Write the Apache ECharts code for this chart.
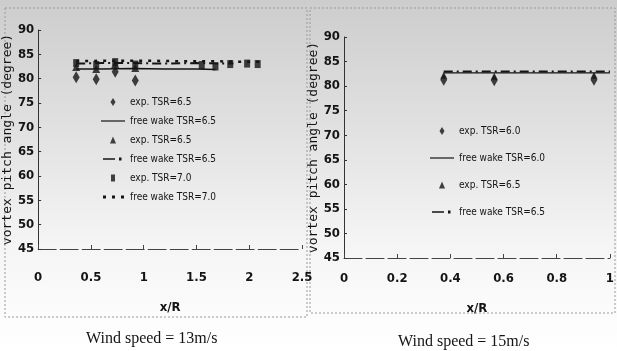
<!DOCTYPE html>
<html>
<head>
<meta charset="utf-8">
<script src="https://cdn.jsdelivr.net/npm/echarts@6/dist/echarts.min.js"></script>
<style>
  html, body { margin: 0; padding: 0; background: #fff; }
  #chart { width: 617px; height: 351px; }
</style>
</head>
<body>
<div id="chart"></div>
<script>
// left panel, wind speed 13 m/s
const leftExpX = [0.36, 0.55, 0.73, 0.92];
const leftExp65a = [80.3, 79.9, 81.4, 79.6];
const leftExp65b = [82.4, 82.0, 83.0, 82.2];
const leftExp70X = [0.36, 0.55, 0.73, 0.92, 1.55, 1.68, 1.82, 1.98, 2.08];
const leftExp70 = [83.2, 82.8, 83.4, 82.9, 82.8, 82.5, 83.0, 83.1, 83.0];
const leftFw65aX = [0.36, 0.6, 0.9, 1.2, 1.5, 1.68];
const leftFw65a = [82.0, 82.0, 82.1, 82.0, 82.0, 81.9];
const leftFw65bX = [0.36, 0.6, 0.9, 1.2, 1.5, 1.85];
const leftFw65b = [83.1, 83.2, 83.2, 83.1, 83.2, 83.1];
const leftFw70X = [0.36, 0.7, 1.0, 1.3, 1.6, 1.9, 2.1];
const leftFw70 = [83.6, 83.7, 83.7, 83.6, 83.6, 83.5, 83.5];

// right panel, wind speed 15 m/s
const rightExpX = [0.375, 0.565, 0.94];
const rightExp60 = [81.3, 81.2, 81.3];
const rightExp65 = [82.2, 82.0, 82.2];
const rightFwX = [0.375, 0.5, 0.6, 0.7, 0.8, 0.9, 1.0];
const rightFw60 = [82.7, 82.7, 82.7, 82.7, 82.7, 82.7, 82.7];
const rightFw65 = [83.0, 83.0, 83.0, 83.0, 83.0, 83.0, 83.0];

const leftXTicks = { min: 0, max: 2.5, interval: 0.5 };
const rightXTicks = { min: 0, max: 1, interval: 0.2 };
const yTicks = { min: 45, max: 90, interval: 5 };

const pair = (xs, ys) => xs.map((x, i) => [x, ys[i]]);

const ink = "#141414";
const tickFont = {
  color: ink,
  fontSize: 13,
  fontWeight: "bold",
  fontFamily: "Liberation Sans Narrow, DejaVu Sans Condensed, sans-serif",
};
const legendFont = {
  color: ink,
  fontSize: 10,
  fontFamily: "Liberation Sans Narrow, DejaVu Sans Condensed, sans-serif",
};
const yName = "vortex pitch angle (degree)";

// legend icons drawn in a 24x10 box (the leading moves fix the box)
const box = "M0,0 M24,10 ";
const icons = {
  diamond: box + "M12,1 L14.5,5 L12,9 L9.5,5 Z",
  triangle: box + "M12,1.5 L15,8.5 L9,8.5 Z",
  square: box + "M10,1.5 L14,1.5 L14,8.5 L10,8.5 Z",
  solid: box + "M0,4.4 L24,4.4 L24,5.6 L0,5.6 Z",
  dashDot: box + "M2,4.2 L14,4.2 L14,5.8 L2,5.8 Z M18,3.6 L20.5,3.6 L20.5,6.4 L18,6.4 Z",
  dots: box + "M2,3.5 L5,3.5 L5,6.5 L2,6.5 Z M11,3.5 L14,3.5 L14,6.5 L11,6.5 Z M20,3.5 L23,3.5 L23,6.5 L20,6.5 Z",
};

function xAxisOf(idx, ticks, gap, margin) {
  return {
    type: "value",
    gridIndex: idx,
    ...ticks,
    name: "x/R",
    nameLocation: "middle",
    nameGap: gap,
    nameTextStyle: { ...tickFont, fontSize: 13 },
    axisLine: { lineStyle: { color: "#444", width: 1, type: [18, 4] } },
    axisTick: { inside: true, length: 4, lineStyle: { color: "#444" } },
    axisLabel: { ...tickFont, margin: margin },
    splitLine: { show: false },
  };
}

function yAxisOf(idx, gap) {
  return {
    type: "value",
    gridIndex: idx,
    ...yTicks,
    name: yName,
    nameLocation: "middle",
    nameGap: gap,
    nameTextStyle: {
      color: ink,
      fontSize: 13,
      fontFamily: "DejaVu Sans Mono, monospace",
    },
    axisLine: { show: true, lineStyle: { color: "#333", width: 1 } },
    axisTick: { inside: true, length: 3, lineStyle: { color: "#333" } },
    axisLabel: { ...tickFont, margin: 4 },
    splitLine: { show: false },
  };
}

const chart = echarts.init(document.getElementById("chart"));

const option = {
  animation: false,
  backgroundColor: {
    type: "linear",
    x: 0,
    y: 0,
    x2: 0,
    y2: 1,
    colorStops: [
      { offset: 0, color: "#cdcdcd" },
      { offset: 0.35, color: "#e0e0e0" },
      { offset: 0.7, color: "#f5f5f5" },
      { offset: 1, color: "#ffffff" },
    ],
  },
  grid: [
    { left: 38, top: 30, width: 264, height: 219 },
    { left: 344, top: 37, width: 267, height: 221 },
  ],
  xAxis: [xAxisOf(0, leftXTicks, 52, 22), xAxisOf(1, rightXTicks, 44, 14)],
  yAxis: [yAxisOf(0, 22), yAxisOf(1, 23)],
  legend: [
    {
      orient: "vertical",
      left: 96,
      top: 92,
      itemGap: 9,
      itemWidth: 24,
      itemHeight: 10,
      textStyle: legendFont,
      data: [
        { name: "exp. TSR=6.5", icon: "path://" + icons.diamond },
        { name: "free wake TSR=6.5", icon: "path://" + icons.solid },
        { name: "exp. TSR=6.5 ", icon: "path://" + icons.triangle },
        { name: "free wake TSR=6.5 ", icon: "path://" + icons.dashDot },
        { name: "exp. TSR=7.0", icon: "path://" + icons.square },
        { name: "free wake TSR=7.0", icon: "path://" + icons.dots },
      ],
    },
    {
      orient: "vertical",
      left: 425,
      top: 121,
      itemGap: 17,
      itemWidth: 24,
      itemHeight: 10,
      textStyle: legendFont,
      data: [
        { name: "exp. TSR=6.0", icon: "path://" + icons.diamond },
        { name: "free wake TSR=6.0", icon: "path://" + icons.solid },
        { name: "exp. TSR=6.5  ", icon: "path://" + icons.triangle },
        { name: "free wake TSR=6.5  ", icon: "path://" + icons.dashDot },
      ],
    },
  ],
  graphic: [
    {
      type: "rect",
      shape: { x: 5, y: 8, width: 302, height: 309 },
      style: { fill: "none", stroke: "#9a9a9a", lineDash: [2, 2], lineWidth: 1 },
    },
    {
      type: "rect",
      shape: { x: 310, y: 8, width: 305, height: 305 },
      style: { fill: "none", stroke: "#9a9a9a", lineDash: [2, 2], lineWidth: 1 },
    },
    {
      type: "text",
      left: 86,
      top: 331,
      style: {
        text: "Wind speed = 13m/s",
        fill: ink,
        fontSize: 16,
        fontFamily: "Liberation Serif, serif",
      },
    },
    {
      type: "text",
      left: 398,
      top: 334,
      style: {
        text: "Wind speed = 15m/s",
        fill: ink,
        fontSize: 16,
        fontFamily: "Liberation Serif, serif",
      },
    },
  ],
  series: [
    {
      name: "exp. TSR=6.5",
      type: "scatter",
      xAxisIndex: 0,
      yAxisIndex: 0,
      symbol: "diamond",
      symbolSize: [7, 12],
      itemStyle: { color: ink },
      data: pair(leftExpX, leftExp65a),
    },
    {
      name: "free wake TSR=6.5",
      type: "line",
      xAxisIndex: 0,
      yAxisIndex: 0,
      symbol: "none",
      lineStyle: { color: ink, width: 1.5 },
      itemStyle: { color: ink },
      data: pair(leftFw65aX, leftFw65a),
    },
    {
      name: "exp. TSR=6.5 ",
      type: "scatter",
      xAxisIndex: 0,
      yAxisIndex: 0,
      symbol: "triangle",
      symbolSize: 8,
      itemStyle: { color: ink },
      data: pair(leftExpX, leftExp65b),
    },
    {
      name: "free wake TSR=6.5 ",
      type: "line",
      xAxisIndex: 0,
      yAxisIndex: 0,
      symbol: "none",
      lineStyle: { color: ink, width: 2, type: [9, 4, 2, 4] },
      itemStyle: { color: ink },
      data: pair(leftFw65bX, leftFw65b),
    },
    {
      name: "exp. TSR=7.0",
      type: "scatter",
      xAxisIndex: 0,
      yAxisIndex: 0,
      symbol: "rect",
      symbolSize: [6, 8],
      itemStyle: { color: ink },
      data: pair(leftExp70X, leftExp70),
    },
    {
      name: "free wake TSR=7.0",
      type: "line",
      xAxisIndex: 0,
      yAxisIndex: 0,
      symbol: "none",
      lineStyle: { color: ink, width: 2.5, type: [3, 6] },
      itemStyle: { color: ink },
      data: pair(leftFw70X, leftFw70),
    },
    {
      name: "exp. TSR=6.0",
      type: "scatter",
      xAxisIndex: 1,
      yAxisIndex: 1,
      symbol: "diamond",
      symbolSize: [7, 12],
      itemStyle: { color: ink },
      data: pair(rightExpX, rightExp60),
    },
    {
      name: "free wake TSR=6.0",
      type: "line",
      xAxisIndex: 1,
      yAxisIndex: 1,
      symbol: "none",
      lineStyle: { color: ink, width: 1.2 },
      itemStyle: { color: ink },
      data: pair(rightFwX, rightFw60),
    },
    {
      name: "exp. TSR=6.5  ",
      type: "scatter",
      xAxisIndex: 1,
      yAxisIndex: 1,
      symbol: "triangle",
      symbolSize: 7,
      itemStyle: { color: ink },
      data: pair(rightExpX, rightExp65),
    },
    {
      name: "free wake TSR=6.5  ",
      type: "line",
      xAxisIndex: 1,
      yAxisIndex: 1,
      symbol: "none",
      lineStyle: { color: ink, width: 2, type: [9, 4, 2, 4] },
      itemStyle: { color: ink },
      data: pair(rightFwX, rightFw65),
    },
  ],
};

chart.setOption(option);
</script>
</body>
</html>
